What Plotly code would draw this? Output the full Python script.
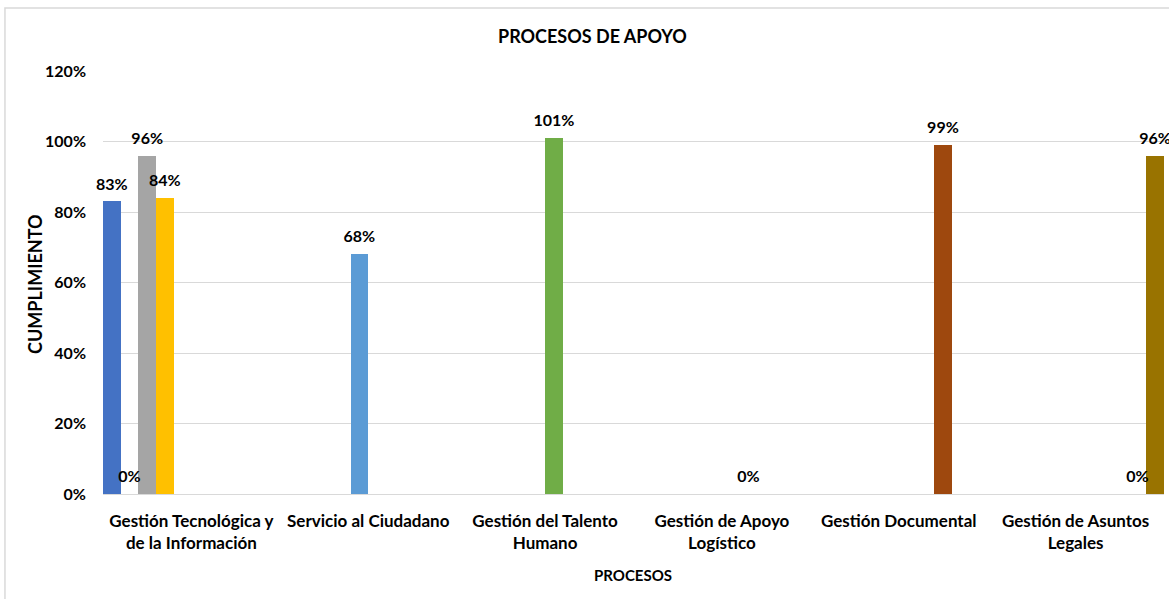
import plotly.graph_objects as go

# Process categories (x axis)
categories = [
    "Gestión Tecnológica y<br>de la Información",
    "Servicio al Ciudadano",
    "Gestión del Talento<br>Humano",
    "Gestión de Apoyo<br>Logístico",
    "Gestión Documental",
    "Gestión de Asuntos<br>Legales",
]

# One series per indicator; each series belongs to a single process
series_category = [0, 0, 0, 0, 1, 2, 3, 4, 5, 5]
series_values = [0.83, 0.00, 0.96, 0.84, 0.68, 1.01, 0.00, 0.99, 0.00, 0.96]
series_colors = [
    "#4472C4", "#ED7D31", "#A5A5A5", "#FFC000", "#5B9BD5",
    "#70AD47", "#264478", "#9E480E", "#636363", "#997300",
]

y_ticks = [0, 0.2, 0.4, 0.6, 0.8, 1.0, 1.2]

FONT = "Lato, Roboto, sans-serif"
GRID = "#d9d9d9"

fig = go.Figure()
for i, (cat, val, col) in enumerate(zip(series_category, series_values, series_colors)):
    fig.add_trace(go.Bar(
        x=[categories[cat]],
        y=[val],
        name=f"Serie {i + 1}",
        offsetgroup=str(i),
        marker=dict(color=col, line=dict(width=0)),
        showlegend=False,
        hovertemplate="%{y:.0%}<extra></extra>",
    ))

# Value labels: one text trace per series, grouped into the same slots as the bars
for i, (cat, val) in enumerate(zip(series_category, series_values)):
    fig.add_trace(go.Scatter(
        x=[categories[cat]],
        y=[val],
        offsetgroup=str(i),
        mode="markers+text",
        marker=dict(size=11, color="rgba(0,0,0,0)"),
        texttemplate="%{y:.0%}",
        textposition="top center",
        textfont=dict(family=FONT, size=16, color="#000000", weight="bold"),
        cliponaxis=False,
        showlegend=False,
        hoverinfo="skip",
    ))

fig.update_layout(
    width=1169,
    height=599,
    margin=dict(l=103, r=5, t=71, b=105, autoexpand=False),
    paper_bgcolor="white",
    plot_bgcolor="white",
    barmode="group",
    bargap=0.0,
    bargroupgap=0.0,
    scattermode="group",
    scattergap=0.0,
    font=dict(family=FONT, size=16, color="#000000", weight="bold"),
    xaxis=dict(
        categoryorder="array",
        categoryarray=categories,
        showgrid=False,
        showline=False,
        zeroline=False,
        ticks="",
        tickangle=0,
        automargin=False,
        tickfont=dict(family=FONT, size=17, color="#000000", weight="bold"),
        ticklabelstandoff=15,
    ),
    yaxis=dict(
        range=[0, 1.2],
        tickvals=y_ticks,
        tickformat=".0%",
        showgrid=True,
        gridcolor=GRID,
        gridwidth=1,
        zeroline=True,
        zerolinecolor=GRID,
        zerolinewidth=1,
        showline=False,
        ticks="",
        automargin=False,
        ticklabelstandoff=16,
        tickfont=dict(family=FONT, size=16, color="#000000", weight="bold"),
    ),
    annotations=[
        dict(text="PROCESOS DE APOYO", xref="paper", yref="paper",
             x=0.461, y=1.083, showarrow=False, xanchor="center", yanchor="middle",
             font=dict(family=FONT, size=18, color="#000000", weight="bold")),
        dict(text="CUMPLIMIENTO", xref="paper", yref="paper",
             x=-0.0641, y=0.4965, showarrow=False, textangle=-90,
             xanchor="center", yanchor="middle",
             font=dict(family=FONT, size=18, color="#000000", weight="bold")),
        dict(text="PROCESOS", xref="paper", yref="paper",
             x=0.4995, y=-0.1915, showarrow=False, xanchor="center", yanchor="middle",
             font=dict(family=FONT, size=15, color="#000000", weight="bold")),
    ],
    shapes=[
        dict(type="rect", xref="paper", yref="paper",
             x0=-0.0924, x1=1.0104, y0=-0.262, y1=1.149,
             line=dict(color=GRID, width=1.5), fillcolor="rgba(0,0,0,0)",
             layer="below"),
    ],
)

fig.write_html("out.html")
